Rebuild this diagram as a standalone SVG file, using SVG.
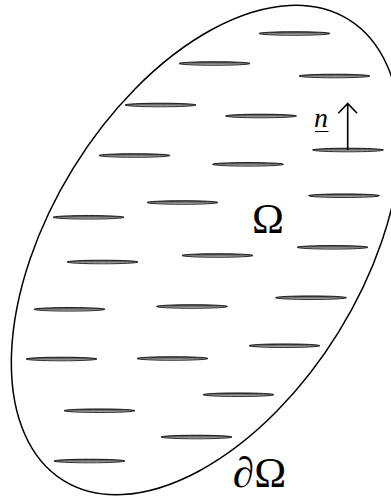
<svg xmlns="http://www.w3.org/2000/svg" width="391" height="498" viewBox="0 0 391 498">
<style>
.flake{fill:url(#fg);stroke:#000;stroke-width:0.8}
.bd{fill:none;stroke:#000;stroke-width:1.5}
.lbl{font-family:"Liberation Serif","Times New Roman",serif;fill:#000}
</style>
<defs>
<linearGradient id="fg" x1="0" y1="0" x2="0" y2="1">
<stop offset="0" stop-color="#333"/>
<stop offset="0.6" stop-color="#888"/>
<stop offset="1" stop-color="#ddd"/>
</linearGradient>
</defs>
<rect width="391" height="498" fill="#fff"/>
<g id="domain">
<ellipse class="bd" cx="0" cy="0" rx="271" ry="156" transform="translate(206 250) rotate(-58.3)"/>
</g>
<g id="flakes">
<ellipse class="flake" cx="294.5" cy="33.5" rx="35.5" ry="1.8"/>
<ellipse class="flake" cx="214.5" cy="63.5" rx="35.5" ry="1.8"/>
<ellipse class="flake" cx="334.5" cy="76" rx="35.5" ry="1.8"/>
<ellipse class="flake" cx="160.5" cy="105" rx="35.5" ry="1.8"/>
<ellipse class="flake" cx="261" cy="116" rx="35.5" ry="1.8"/>
<ellipse class="flake" cx="134.5" cy="155.5" rx="35.5" ry="1.8"/>
<ellipse class="flake" cx="248" cy="164.3" rx="35.5" ry="1.8"/>
<ellipse class="flake" cx="348" cy="150" rx="35.5" ry="1.8"/>
<ellipse class="flake" cx="344" cy="195.7" rx="35.5" ry="1.8"/>
<ellipse class="flake" cx="182.5" cy="202.5" rx="35.5" ry="1.8"/>
<ellipse class="flake" cx="88.5" cy="217.3" rx="35.5" ry="1.8"/>
<ellipse class="flake" cx="332.5" cy="247.3" rx="35.5" ry="1.8"/>
<ellipse class="flake" cx="217.5" cy="255.5" rx="35.5" ry="1.8"/>
<ellipse class="flake" cx="102.5" cy="262" rx="35.5" ry="1.8"/>
<ellipse class="flake" cx="311" cy="297.7" rx="35.5" ry="1.8"/>
<ellipse class="flake" cx="192" cy="306.5" rx="35.5" ry="1.8"/>
<ellipse class="flake" cx="69.5" cy="309.3" rx="35.5" ry="1.8"/>
<ellipse class="flake" cx="284.5" cy="345.7" rx="35.5" ry="1.8"/>
<ellipse class="flake" cx="172.5" cy="358.5" rx="35.5" ry="1.8"/>
<ellipse class="flake" cx="61.5" cy="359" rx="35.5" ry="1.8"/>
<ellipse class="flake" cx="238.5" cy="394.7" rx="35.5" ry="1.8"/>
<ellipse class="flake" cx="99.5" cy="410.7" rx="35.5" ry="1.8"/>
<ellipse class="flake" cx="196.5" cy="437" rx="35.5" ry="1.8"/>
<ellipse class="flake" cx="89.5" cy="461" rx="35.5" ry="1.8"/>
</g>
<g id="normal">
<path d="M347.7 150 V104 M338.3 113.3 L347.7 103.5 L357.1 113.3" fill="none" stroke="#000" stroke-width="1.6"/>
<text class="lbl" x="314" y="127" font-size="28" font-style="italic">n</text>
<line x1="315" y1="131.5" x2="328.5" y2="131.5" stroke="#000" stroke-width="1"/>
</g>
<g id="labels">
<text class="lbl" x="252" y="233" font-size="43">Ω</text>
<text class="lbl" x="233" y="487" font-size="43">∂Ω</text>
</g>
</svg>
